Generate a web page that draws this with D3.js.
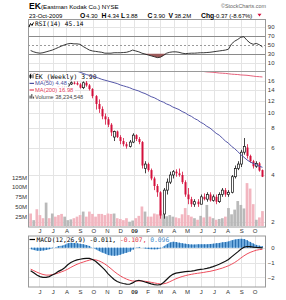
<!DOCTYPE html>
<html>
<head>
<meta charset="utf-8">
<title>EK weekly</title>
<script src="https://cdn.jsdelivr.net/npm/d3@7"></script>
<style>
	body { margin: 0; background: #fff; }
	svg { display: block; font-family: "Liberation Sans", Arial, sans-serif; font-size: 6px; }
</style>
</head>
<body>
<div id="chart"></div>
<script>
	// week ending dates
	var weeks = ["2008-05-16","2008-05-23","2008-05-30","2008-06-06","2008-06-13","2008-06-20","2008-06-27","2008-07-04","2008-07-11","2008-07-18","2008-07-25","2008-08-01","2008-08-08","2008-08-15","2008-08-22","2008-08-29","2008-09-05","2008-09-12","2008-09-19","2008-09-26","2008-10-03","2008-10-10","2008-10-17","2008-10-24","2008-10-31","2008-11-07","2008-11-14","2008-11-21","2008-11-28","2008-12-05","2008-12-12","2008-12-19","2008-12-26",
		"2009-01-02","2009-01-09","2009-01-16","2009-01-23","2009-01-30","2009-02-06","2009-02-13","2009-02-20","2009-02-27","2009-03-06","2009-03-13","2009-03-20","2009-03-27","2009-04-03","2009-04-10","2009-04-17","2009-04-24","2009-05-01","2009-05-08","2009-05-15","2009-05-22","2009-05-29","2009-06-05","2009-06-12","2009-06-19","2009-06-26","2009-07-03","2009-07-10","2009-07-17","2009-07-24","2009-07-31","2009-08-07","2009-08-14","2009-08-21","2009-08-28","2009-09-04","2009-09-11","2009-09-18","2009-09-25","2009-10-02","2009-10-09","2009-10-16","2009-10-23"];

	// weekly prices
	var open  = [17.3,17.6,17.8,17.0,16.4,15.8,16.2,15.5,15.8,15.2, 14.7,14.3,14.9,15.3,15.6,15.5,15.2,14.5,15.6,15.0, 14.2,12.8,11.4,10.6,9.5,9.1,8.4,7.0,7.6,7.0, 6.6,6.3,6.1,6.5,7.2,6.8,6.5,4.4,4.7,4.3, 3.8,3.4,3.1,2.25,3.2,3.6,4.0,4.2,4.1,4.0, 3.6,3.0,2.8,2.6,2.7,2.6,2.9,2.8,3.0,2.75, 2.9,2.7,3.0,3.2,3.0,3.1,3.9,4.4,4.7,5.6, 6.0,5.3,4.9,4.55,4.75,4.30];
	var high  = [17.9,18.0,17.9,17.1,16.6,16.5,16.3,16.0,15.9,15.4, 14.9,15.1,15.5,15.9,15.9,15.9,15.5,15.9,16.0,15.3, 14.4,13.0,12.2,11.0,9.9,9.4,8.6,7.7,7.7,7.2, 6.9,6.5,6.7,7.4,7.3,7.0,6.6,4.9,4.8,4.4, 3.9,3.5,3.15,3.3,3.8,4.2,4.3,4.35,4.4,4.2, 3.7,3.3,2.9,2.8,2.8,3.0,3.05,3.1,3.1,3.0, 3.0,3.1,3.3,3.3,3.2,4.0,4.6,4.9,5.8,6.9, 6.3,5.4,5.0,4.9,4.85,4.34];
	var low   = [17.1,17.3,16.9,16.2,15.6,15.5,15.3,15.2,15.0,14.5, 14.1,14.0,14.7,15.1,15.2,15.0,14.3,14.2,14.7,13.9, 12.4,10.5,10.0,9.1,8.4,8.1,7.1,6.6,6.9,6.3, 6.1,5.9,6.0,6.4,6.6,6.3,4.4,4.1,4.2,3.7, 3.2,2.9,2.1,2.1,3.0,3.5,3.8,3.9,3.9,3.5, 2.9,2.6,2.5,2.5,2.5,2.6,2.75,2.7,2.7,2.7, 2.6,2.65,2.9,2.9,2.9,3.05,3.8,4.3,4.5,5.4, 5.1,4.8,4.4,4.45,4.2,3.88];
	var close = [17.6,17.8,17.0,16.4,15.8,16.2,15.5,15.8,15.2,14.7, 14.3,14.9,15.3,15.6,15.5,15.2,14.5,15.6,15.0,14.2, 12.8,11.4,10.6,9.5,9.1,8.4,7.5,7.6,7.0,6.6, 6.3,6.1,6.5,7.2,6.8,6.5,4.6,4.7,4.3,3.8, 3.4,3.1,2.2,3.2,3.6,4.0,4.2,4.1,4.0,3.6, 3.0,2.8,2.6,2.7,2.6,2.9,2.8,3.0,2.75,2.9, 2.7,3.0,3.2,3.0,3.1,3.9,4.4,4.7,5.6,6.1, 5.3,4.9,4.55,4.75,4.27,3.90];
	// weekly volume, millions
	var volume = [32,15,43,28,20,60,20,32,24,28, 31,24,15,17,20,24,28,37,24,37, 31,24,31,31,28,32,31,32,20,18, 15,20,11,14,20,26,50,37,24,24, 32,30,40,30,25,28,24,22,20,30, 46,28,24,20,16,26,22,54,24,20, 16,18,20,24,46,30,42,64,54,45, 110,96,56,16,22,38.2];

	// moving averages
	var ma50 = [22.6,22.3,22.0,21.7,21.4,21.1,20.8,20.5,20.2,19.9, 19.6,19.4,19.2,19.0,18.8,18.5,18.2,17.9,17.6,17.4, 17.2,16.9,16.7,16.4,16.2,16.0,15.8,15.6,15.4,15.1, 14.9,14.7,14.5,14.2,14.0,13.8,13.5,13.3,13.0,12.7, 12.5,12.2,11.9,11.7,11.4,11.2,10.9,10.7,10.5,10.2, 10.0,9.7,9.5,9.2,9.0,8.7,8.5,8.2,8.0,7.7, 7.4,7.2,6.9,6.6,6.4,6.1,5.9,5.65,5.4,5.2, 5.0,4.85,4.75,4.65,4.55,4.48];
	var ma200 = [26.4,26.3,26.1,26.0,25.8,25.7,25.5,25.4,25.2,25.1, 24.9,24.8,24.6,24.5,24.3,24.2,24.0,23.9,23.7,23.5, 23.4,23.2,23.0,22.8,22.6,22.4,22.2,22.0,21.8,21.6, 21.4,21.2,21.0,20.8,20.6,20.5,20.3,20.1,19.9,19.8, 19.6,19.5,19.4,19.3,19.2,19.1,19.0,18.9,18.85,18.8, 18.75,18.7,18.6,18.55,18.5,18.45,18.4,18.3,18.25,18.2, 18.1,18.0,17.95,17.9,17.8,17.7,17.65,17.6,17.5,17.45, 17.4,17.3,17.2,17.1,17.05,16.98];

	// indicators
	var rsi = [37,34,32,31,32,34,36,38,41,44, 47,50,52,53,52,52,51,46,42,38, 36,35,34,33,31,31,31,32,32,32, 32.5,33,35,38,36,34,31,29,27,25, 23,21,22,26,31,33,34,34,33,31, 30,30.5,31,31,31.5,32,32,32.5,33,34, 35,36,37,38,40,52,58,62,67,68, 60,54,51,53,50,45.14];
	var macd = [-1.55,-1.7,-1.85,-1.95,-2.0,-2.0,-1.95,-1.85,-1.75,-1.6, -1.5,-1.35,-1.15,-1.0,-0.9,-0.82,-0.78,-0.74,-0.72,-0.72, -0.8,-0.92,-1.1,-1.3,-1.5,-1.75,-1.95,-2.15,-2.28,-2.37, -2.42,-2.46,-2.47,-2.38,-2.25,-2.2,-2.25,-2.32,-2.38,-2.44, -2.49,-2.52,-2.5,-2.35,-2.15,-1.95,-1.8,-1.72,-1.68,-1.65, -1.62,-1.6,-1.58,-1.55,-1.5,-1.47,-1.44,-1.4,-1.35,-1.28, -1.2,-1.12,-1.02,-0.92,-0.8,-0.62,-0.45,-0.28,-0.1,0.03, 0.08,0.07,0.04,0.02,0.01,-0.011];
	var signal = [-1.45,-1.55,-1.65,-1.74,-1.81,-1.85,-1.85,-1.82,-1.77,-1.71, -1.63,-1.55,-1.45,-1.33,-1.22,-1.12,-1.04,-0.97,-0.9,-0.84, -0.8,-0.82,-0.88,-0.98,-1.1,-1.25,-1.42,-1.6,-1.76,-1.9, -2.02,-2.12,-2.2,-2.25,-2.26,-2.25,-2.25,-2.27,-2.3,-2.34, -2.38,-2.42,-2.45,-2.44,-2.39,-2.3,-2.2,-2.1,-2.02,-1.95, -1.89,-1.84,-1.8,-1.76,-1.73,-1.7,-1.67,-1.63,-1.6,-1.55, -1.5,-1.44,-1.38,-1.3,-1.22,-1.12,-1.0,-0.86,-0.7,-0.55, -0.42,-0.32,-0.24,-0.17,-0.13,-0.107];
	var hist = [-0.10,-0.15,-0.20,-0.21,-0.19,-0.15,-0.10,-0.03,0.02,0.11, 0.13,0.20,0.30,0.33,0.32,0.30,0.26,0.23,0.18,0.12, 0.0,-0.10,-0.22,-0.32,-0.40,-0.50,-0.53,-0.55,-0.52,-0.47, -0.40,-0.34,-0.27,-0.13,0.01,0.05,0.0,-0.05,-0.08,-0.10, -0.11,-0.10,-0.05,0.09,0.24,0.35,0.40,0.38,0.34,0.30, 0.27,0.24,0.22,0.21,0.23,0.23,0.23,0.23,0.25,0.27, 0.30,0.32,0.36,0.38,0.42,0.50,0.55,0.58,0.60,0.58, 0.50,0.39,0.28,0.19,0.14,0.096];

	// axis ticks
	var monthStarts = ["2008-06-01","2008-07-01","2008-08-01","2008-09-01","2008-10-01","2008-11-01","2008-12-01","2009-01-01","2009-02-01","2009-03-01","2009-04-01","2009-05-01","2009-06-01","2009-07-01","2009-08-01","2009-09-01","2009-10-01"];
	var monthLabels = ["J","J","A","S","O","N","D","09","F","M","A","M","J","J","A","S","O"];
	var priceTicks = [16, 14, 12, 10, 8, 6, 4, 2];
	var volumeTicks = [25, 50, 75, 100, 125];
	var rsiTicks = [90, 70, 50, 30, 10];
	var macdTicks = [0, -1, -2];

	// layout
	var left = 28, right = 266, labelX = 274.5;
	var rsiTop = 19.5, rsiBottom = 71.5;
	var priceTop = 71.5, priceBottom = 227;
	var macdTop = 236, macdBottom = 287;
	var red = "#d4103c", grid = "#e4e4e4", border = "#9a9a9a";

	var parse = d3.timeParse("%Y-%m-%d");
	var bars = weeks.map(function(w, i) {
		var d = parse(w);
		return {
			date: d3.timeDay.offset(d, -4),
			o: open[i], h: high[i], l: low[i], c: close[i], v: volume[i],
			up: i > 0 && close[i] > close[i - 1],
			ma50: ma50[i], ma200: ma200[i], rsi: rsi[i],
			macd: macd[i], signal: signal[i], hist: hist[i]
		};
	});
	var months = monthStarts.map(parse);

	var x = d3.scaleTime()
		.domain([parse("2008-05-06"), parse("2009-10-27")])
		.range([left, right]);
	var yRsi = d3.scaleLinear().domain([10, 90]).range([62.5, 27]);
	var yPrice = d3.scaleLog().domain([2, 16]).range([222, 81]);
	var yVol = d3.scaleLinear().domain([0, 125]).range([226, 177.25]);
	var yMacd = d3.scaleLinear().domain([-2, 0]).range([277.3, 247.7]);

	var svg = d3.select("#chart").append("svg")
		.attr("width", 286)
		.attr("height", 300);
	svg.append("rect").attr("width", 286).attr("height", 300).attr("fill", "#fff");

	var defs = svg.append("defs");
	function clip(id, top, bottom) {
		defs.append("clipPath").attr("id", id)
			.append("rect")
			.attr("x", left).attr("y", top)
			.attr("width", right - left).attr("height", bottom - top);
		return "url(#" + id + ")";
	}
	var clipRsi = clip("clipRsi", rsiTop, rsiBottom);
	var clipPrice = clip("clipPrice", priceTop, priceBottom);
	var clipMacd = clip("clipMacd", macdTop, macdBottom);

	// vertical grid in every panel
	function monthGrid(top, bottom) {
		svg.append("g").selectAll("line")
			.data(months)
			.enter()
			.append("line")
			.attr("x1", function(d) { return Math.round(x(d)) + 0.5; })
			.attr("x2", function(d) { return Math.round(x(d)) + 0.5; })
			.attr("y1", top).attr("y2", bottom)
			.attr("stroke", grid);
	}
	function hGrid(scale, ticks, top, bottom) {
		svg.append("g").selectAll("line")
			.data(ticks)
			.enter()
			.append("line")
			.attr("x1", left).attr("x2", right)
			.attr("y1", function(d) { return Math.round(scale(d)) + 0.5; })
			.attr("y2", function(d) { return Math.round(scale(d)) + 0.5; })
			.attr("stroke", grid);
	}
	monthGrid(rsiTop, rsiBottom);
	monthGrid(priceTop, priceBottom);
	monthGrid(macdTop, macdBottom);
	hGrid(yRsi, [90, 10], rsiTop, rsiBottom);
	hGrid(yPrice, priceTicks, priceTop, priceBottom);
	hGrid(yMacd, macdTicks, macdTop, macdBottom);

	// rsi panel
	var rsiG = svg.append("g").attr("clip-path", clipRsi);
	[70, 30].forEach(function(v) {
		rsiG.append("line")
			.attr("x1", left).attr("x2", right)
			.attr("y1", Math.round(yRsi(v)) + 0.5).attr("y2", Math.round(yRsi(v)) + 0.5)
			.attr("stroke", "#8a8a8a");
	});
	rsiG.append("line")
		.attr("x1", left).attr("x2", right)
		.attr("y1", Math.round(yRsi(50)) + 0.5).attr("y2", Math.round(yRsi(50)) + 0.5)
		.attr("stroke", "#9a9a9a")
		.attr("stroke-dasharray", "2,2");
	rsiG.append("path")
		.datum(bars)
		.attr("fill", "#9c5a5a")
		.attr("d", d3.area()
			.x(function(d) { return x(d.date); })
			.y0(yRsi(30))
			.y1(function(d) { return yRsi(Math.min(d.rsi, 30)); }));
	rsiG.append("path")
		.datum(bars)
		.attr("fill", "#9c5a5a")
		.attr("d", d3.area()
			.x(function(d) { return x(d.date); })
			.y0(yRsi(70))
			.y1(function(d) { return yRsi(Math.max(d.rsi, 70)); }));
	rsiG.append("path")
		.datum(bars)
		.attr("fill", "none")
		.attr("stroke", "#222")
		.attr("stroke-width", 0.9)
		.attr("d", d3.line()
			.x(function(d) { return x(d.date); })
			.y(function(d) { return yRsi(d.rsi); }));

	// price panel: volume, candles
	var priceG = svg.append("g").attr("clip-path", clipPrice);
	priceG.append("g").selectAll("rect")
		.data(bars)
		.enter()
		.append("rect")
		.attr("x", function(d) { return x(d.date) - 1.35; })
		.attr("width", 2.7)
		.attr("y", function(d) { return yVol(d.v); })
		.attr("height", function(d) { return yVol(0) - yVol(d.v); })
		.attr("fill", function(d) { return d.up ? "#b9b9b9" : "#f2b6c0"; });

	var candle = priceG.append("g").selectAll("g")
		.data(bars)
		.enter()
		.append("g");
	candle.append("line")
		.attr("x1", function(d) { return Math.round(x(d.date)) + 0.5; })
		.attr("x2", function(d) { return Math.round(x(d.date)) + 0.5; })
		.attr("y1", function(d) { return yPrice(d.h); })
		.attr("y2", function(d) { return yPrice(d.l); })
		.attr("stroke", function(d) { return d.up ? "#111" : red; })
		.attr("stroke-width", 0.8);
	candle.append("rect")
		.attr("x", function(d) { return Math.round(x(d.date)) - 0.5; })
		.attr("width", 2)
		.attr("y", function(d) { return yPrice(Math.max(d.o, d.c)); })
		.attr("height", function(d) { return Math.max(1, Math.abs(yPrice(d.o) - yPrice(d.c))); })
		.attr("fill", function(d) { return d.c < d.o ? (d.up ? "#111" : red) : "#fff"; })
		.attr("stroke", function(d) { return d.up ? "#111" : red; })
		.attr("stroke-width", function(d) { return d.c < d.o ? 0 : 0.7; });

	// legend lines sit on white boxes above the bars
	function legendLine(y, iconFn, parts, font, size) {
		var g = svg.append("g");
		var t = g.append("text")
			.attr("x", 35).attr("y", y)
			.attr("font-family", font)
			.attr("font-size", size);
		parts.forEach(function(p) {
			t.append("tspan").attr("fill", p[1]).text(p[0]);
		});
		var bb = t.node().getBBox();
		g.insert("rect", "text")
			.attr("x", left + 0.5).attr("y", y - size * 0.85)
			.attr("width", bb.x + bb.width + 1 - left)
			.attr("height", size * 1.1)
			.attr("fill", "#fff");
		iconFn(g, y);
		return g;
	}
	var mono = "'DejaVu Sans Mono', monospace";
	var sans = "'Liberation Sans', Arial, sans-serif";
	legendLine(78.8, function(g, y) {
		g.append("line").attr("x1", 30.5).attr("x2", 30.5).attr("y1", y - 5).attr("y2", y).attr("stroke", "#000").attr("stroke-width", 0.8);
		g.append("rect").attr("x", 29.5).attr("y", y - 4).attr("width", 2).attr("height", 3).attr("fill", "#000");
		g.append("line").attr("x1", 33).attr("x2", 33).attr("y1", y - 4.5).attr("y2", y - 0.5).attr("stroke", "#000").attr("stroke-width", 0.8);
	}, [["EK (Weekly) 3.90", "#000"]], mono, 6.4);
	legendLine(85.4, function(g, y) {
		g.append("line").attr("x1", 29.5).attr("x2", 34).attr("y1", y - 2).attr("y2", y - 2).attr("stroke", "#4b4f9e").attr("stroke-width", 1.2);
	}, [["MA(50) 4.48", "#4b4f9e"]], sans, 5.8);
	legendLine(92, function(g, y) {
		g.append("line").attr("x1", 29.5).attr("x2", 34).attr("y1", y - 2).attr("y2", y - 2).attr("stroke", "#e2405c").attr("stroke-width", 1.2);
	}, [["MA(200) 16.98", "#e2405c"]], sans, 5.8);
	legendLine(98.6, function(g, y) {
		g.append("rect").attr("x", 29.5).attr("y", y - 3).attr("width", 1.2).attr("height", 3).attr("fill", "#555");
		g.append("rect").attr("x", 31.2).attr("y", y - 4.5).attr("width", 1.2).attr("height", 4.5).attr("fill", "#555");
		g.append("rect").attr("x", 32.9).attr("y", y - 2).attr("width", 1.2).attr("height", 2).attr("fill", "#555");
	}, [["Volume 38,234,548", "#444"]], sans, 5.6);

	// moving averages drawn over the legend
	var maG = svg.append("g").attr("clip-path", clipPrice);
	maG.append("path")
		.datum(bars)
		.attr("fill", "none")
		.attr("stroke", "#5557a8")
		.attr("stroke-width", 1)
		.attr("d", d3.line()
			.x(function(d) { return x(d.date); })
			.y(function(d) { return yPrice(d.ma50); }));
	maG.append("path")
		.datum(bars)
		.attr("fill", "none")
		.attr("stroke", "#e4607a")
		.attr("stroke-width", 1)
		.attr("d", d3.line()
			.x(function(d) { return x(d.date); })
			.y(function(d) { return yPrice(d.ma200); }));

	// macd panel
	var macdG = svg.append("g").attr("clip-path", clipMacd);
	macdG.append("path")
		.datum(bars)
		.attr("fill", "#6ea9dc")
		.attr("d", d3.area()
			.x(function(d) { return x(d.date); })
			.y0(yMacd(0))
			.y1(function(d) { return yMacd(d.hist); }));
	macdG.append("g").selectAll("line")
		.data(bars)
		.enter()
		.append("line")
		.attr("x1", function(d) { return Math.round(x(d.date)) + 0.5; })
		.attr("x2", function(d) { return Math.round(x(d.date)) + 0.5; })
		.attr("y1", yMacd(0))
		.attr("y2", function(d) { return yMacd(d.hist); })
		.attr("stroke", "#2a70b0")
		.attr("stroke-width", 1);
	macdG.append("path")
		.datum(bars)
		.attr("fill", "none")
		.attr("stroke", "#ee4d5c")
		.attr("stroke-width", 1)
		.attr("d", d3.line()
			.x(function(d) { return x(d.date); })
			.y(function(d) { return yMacd(d.signal); }));
	macdG.append("path")
		.datum(bars)
		.attr("fill", "none")
		.attr("stroke", "#111")
		.attr("stroke-width", 1.2)
		.attr("d", d3.line()
			.x(function(d) { return x(d.date); })
			.y(function(d) { return yMacd(d.macd); }));

	// panel borders
	[[rsiTop, rsiBottom], [priceTop, priceBottom], [macdTop, macdBottom]].forEach(function(p) {
		svg.append("rect")
			.attr("x", left + 0.5).attr("y", p[0])
			.attr("width", right - left - 1).attr("height", p[1] - p[0])
			.attr("fill", "none")
			.attr("stroke", border);
	});

	// axes
	function tidy(g, anchor) {
		g.select(".domain").remove();
		g.attr("font-size", null).attr("font-family", null).attr("text-anchor", anchor);
		g.selectAll("text").attr("fill", "#333");
	}
	svg.append("g")
		.attr("transform", "translate(" + labelX + ",0)")
		.call(d3.axisRight(yRsi).tickValues(rsiTicks).tickSize(0).tickPadding(0))
		.call(tidy, "end");
	svg.append("g")
		.attr("transform", "translate(" + labelX + ",0)")
		.call(d3.axisRight(yPrice).tickValues(priceTicks).tickFormat(d3.format("d")).tickSize(0).tickPadding(0))
		.call(tidy, "end");
	svg.append("g")
		.attr("transform", "translate(" + labelX + ",0)")
		.call(d3.axisRight(yMacd).tickValues(macdTicks).tickFormat(d3.format("d")).tickSize(0).tickPadding(0))
		.call(tidy, "end");
	svg.append("g")
		.attr("transform", "translate(" + (left - 1) + ",0)")
		.call(d3.axisLeft(yVol).tickValues(volumeTicks).tickFormat(function(d) { return d + "M"; }).tickSize(0).tickPadding(0))
		.call(tidy, "end");
	[228.3, 289.3].forEach(function(y) {
		var ax = svg.append("g")
			.attr("transform", "translate(0," + y + ")")
			.call(d3.axisBottom(x).tickValues(months).tickFormat(function(d, i) { return monthLabels[i]; }).tickSize(0).tickPadding(0))
			.call(tidy, "middle");
		ax.selectAll("text")
			.attr("font-weight", function(d, i) { return monthLabels[i] == "09" ? "bold" : null; });
	});

	// rsi and macd titles
	var rsiLabel = svg.append("g");
	rsiLabel.append("path")
		.attr("d", "M29,27 L30.5,23.5 L32,25.5 L33.5,22.5")
		.attr("fill", "none").attr("stroke", "#000").attr("stroke-width", 1);
	rsiLabel.append("text")
		.attr("x", 35).attr("y", 26.2)
		.attr("font-family", mono).attr("font-size", 6.2)
		.text("RSI(14) 45.14");

	var macdLabel = svg.append("g");
	macdLabel.append("line")
		.attr("x1", 29.5).attr("x2", 35).attr("y1", 239.5).attr("y2", 239.5)
		.attr("stroke", "#000").attr("stroke-width", 1.2);
	var mt = macdLabel.append("text")
		.attr("x", 36.5).attr("y", 241.6)
		.attr("font-family", mono).attr("font-size", 6.3);
	mt.append("tspan").attr("fill", "#000").text("MACD(12,26,9) -0.011, ");
	mt.append("tspan").attr("fill", "#e03040").text("-0.107, ");
	mt.append("tspan").attr("fill", "#3a86c8").text("0.096");

	// header
	svg.append("text")
		.attr("x", 29).attr("y", 9.3)
		.attr("font-weight", "bold").attr("font-size", 8.6)
		.text("EK");
	svg.append("text")
		.attr("x", 41).attr("y", 9.3)
		.attr("font-size", 6.2)
		.text("(Eastman Kodak Co.) NYSE");
	svg.append("text")
		.attr("x", 266).attr("y", 7.5)
		.attr("text-anchor", "end")
		.attr("font-size", 5.4)
		.attr("fill", "#666")
		.text("\u00a9StockCharts.com");

	var quote = [
		["23-Oct-2009", 29, false], ["O", 80, true], ["4.30", 86, false],
		["H", 101.5, true], ["4.34", 107.5, false], ["L", 121, true], ["3.88", 126, false],
		["C", 147.5, true], ["3.90", 153.5, false], ["V", 168.5, true], ["38.2M", 174.5, false],
		["Chg", 201, true], ["-0.37 (-8.67%)", 214, false]
	];
	svg.append("g").selectAll("text")
		.data(quote)
		.enter()
		.append("text")
		.attr("x", function(d) { return d[1]; })
		.attr("y", 17.6)
		.attr("font-size", function(d) { return d[2] ? 6.8 : 6; })
		.attr("font-weight", function(d) { return d[2] ? "bold" : null; })
		.text(function(d) { return d[0]; });
	svg.append("path")
		.attr("d", "M257.5,13.8 L261.5,13.8 L259.5,16.6 Z")
		.attr("fill", red);
</script>
</body>
</html>
